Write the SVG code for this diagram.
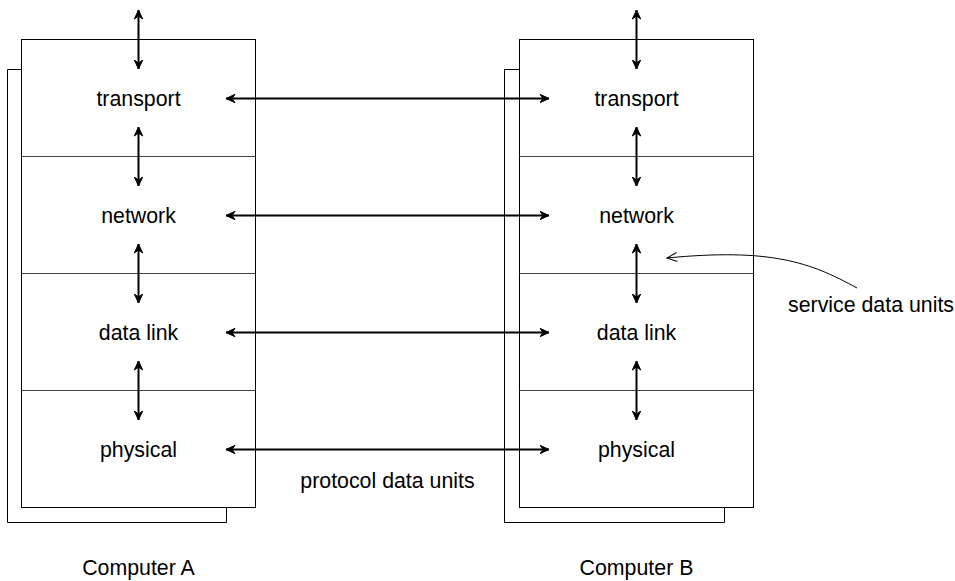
<svg xmlns="http://www.w3.org/2000/svg" width="955" height="581" viewBox="0 0 955 581">
<style>
.box{fill:#fff;stroke:#000;stroke-width:1}
.div{stroke:#444;stroke-width:1}
.back{fill:none;stroke:#000;stroke-width:1}
text{font-family:"Liberation Sans",Arial,sans-serif;font-size:21.33px;fill:#000;text-anchor:middle}
.conn{stroke:#000;stroke-width:2;fill:none;marker-start:url(#ah);marker-end:url(#ah)}
.thin{stroke:#000;stroke-width:1;fill:none;marker-end:url(#oh)}
</style>
<defs>
<marker id="ah" viewBox="0 0 10 10" refX="9.5" refY="5" markerWidth="10" markerHeight="10" markerUnits="userSpaceOnUse" orient="auto-start-reverse">
<path d="M0.5,0.8 L9.5,5 L0.5,9.2 L3.5,5 z" fill="#000" stroke="#000" stroke-width="1" stroke-linejoin="round"/>
</marker>
<marker id="oh" viewBox="0 0 12 12" refX="11" refY="6" markerWidth="12" markerHeight="12" markerUnits="userSpaceOnUse" orient="auto">
<path d="M1,1.5 L11,6 L1,10.5" fill="none" stroke="#000" stroke-width="1"/>
</marker>
</defs>
<g id="computerA">
<path class="back" d="M21.5 69.5 H7.5 V522.5 H226.5 V507.5"/>
<rect class="box" x="21.5" y="39.5" width="234" height="468"/>
<g id="a-transport"><text x="138.5" y="106">transport</text></g>
<line class="div" x1="21.5" y1="156.5" x2="255.5" y2="156.5"/>
<g id="a-network"><text x="138.5" y="223">network</text></g>
<line class="div" x1="21.5" y1="273.5" x2="255.5" y2="273.5"/>
<g id="a-datalink"><text x="138.5" y="340">data link</text></g>
<line class="div" x1="21.5" y1="390.5" x2="255.5" y2="390.5"/>
<g id="a-physical"><text x="138.5" y="457">physical</text></g>
<text x="138.5" y="575">Computer A</text>
</g>
<g id="computerB">
<path class="back" d="M519.5 69.5 H504.5 V522.5 H724.5 V507.5"/>
<rect class="box" x="519.5" y="39.5" width="234" height="468"/>
<g id="b-transport"><text x="636.5" y="106">transport</text></g>
<line class="div" x1="519.5" y1="156.5" x2="753.5" y2="156.5"/>
<g id="b-network"><text x="636.5" y="223">network</text></g>
<line class="div" x1="519.5" y1="273.5" x2="753.5" y2="273.5"/>
<g id="b-datalink"><text x="636.5" y="340">data link</text></g>
<line class="div" x1="519.5" y1="390.5" x2="753.5" y2="390.5"/>
<g id="b-physical"><text x="636.5" y="457">physical</text></g>
<text x="636.5" y="575">Computer B</text>
</g>
<g id="labels">
<text x="387.5" y="488">protocol data units</text>
<text x="871" y="312">service data units</text>
</g>
<g id="connectors">
<line class="conn" x1="138.5" y1="10" x2="138.5" y2="69"/>
<line class="conn" x1="138.5" y1="127" x2="138.5" y2="186"/>
<line class="conn" x1="138.5" y1="244" x2="138.5" y2="303"/>
<line class="conn" x1="138.5" y1="361" x2="138.5" y2="420"/>
<line class="conn" x1="636.5" y1="10" x2="636.5" y2="69"/>
<line class="conn" x1="636.5" y1="127" x2="636.5" y2="186"/>
<line class="conn" x1="636.5" y1="244" x2="636.5" y2="303"/>
<line class="conn" x1="636.5" y1="361" x2="636.5" y2="420"/>
<line class="conn" x1="226" y1="98.5" x2="549" y2="98.5"/>
<line class="conn" x1="226" y1="215.5" x2="549" y2="215.5"/>
<line class="conn" x1="226" y1="332.5" x2="549" y2="332.5"/>
<line class="conn" x1="226" y1="449.5" x2="549" y2="449.5"/>
<path class="thin" d="M857 288 C810 262 770 248 667 258"/>
</g>
</svg>
